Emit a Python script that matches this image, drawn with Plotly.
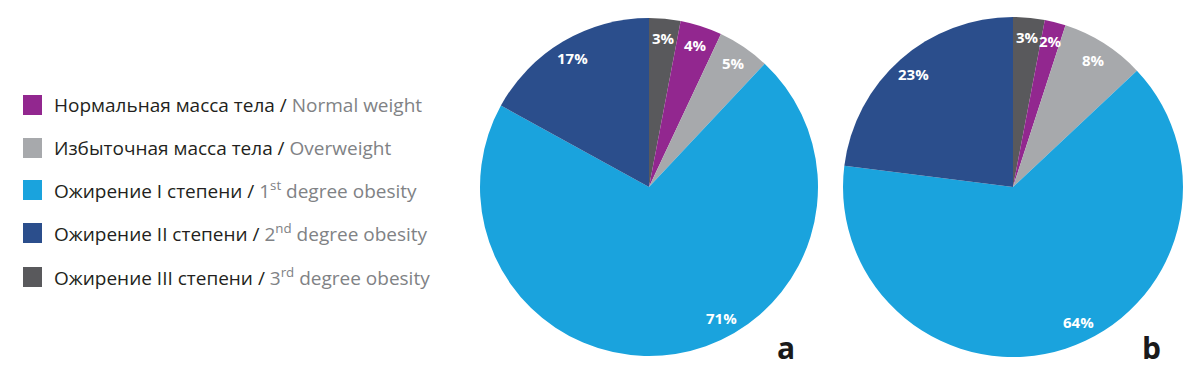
import math
import plotly.graph_objects as go

# ---- data ----
categories_ru = ["Нормальная масса тела", "Избыточная масса тела", "Ожирение I степени",
                 "Ожирение II степени", "Ожирение III степени"]
categories_en = ["Normal weight", "Overweight", "1<sup>st</sup> degree obesity",
                 "2<sup>nd</sup> degree obesity", "3<sup>rd</sup> degree obesity"]
values_a = [4, 5, 71, 17, 3]
values_b = [2, 8, 64, 23, 3]
panel_labels = ["a", "b"]

# ---- style ----
colors = ["#92278f", "#a7a9ac", "#1aa3dd", "#2b4e8c", "#59595c"]
W, H = 1200, 381
FONT = "Open Sans"
# pie placement in pixels (left, right, top, bottom)
pies_px = [(480, 818, 17, 357), (843, 1183, 17, 357)]
label_r = 0.885
label_angle_override = [{2: 151}, {2: 154}]  # big-slice label positions (deg clockwise from top)

fig = go.Figure()
annotations = []
shapes = []

for p, (vals, (l, r, t, b)) in enumerate(zip([values_a, values_b], pies_px)):
    # order clockwise from 12 o'clock: III first, then Normal, Overweight, I, II
    order = [4, 0, 1, 2, 3]
    fig.add_trace(go.Pie(
        labels=[categories_ru[i] for i in order],
        values=[vals[i] for i in order],
        marker=dict(colors=[colors[i] for i in order], line=dict(width=0)),
        sort=False, direction="clockwise", rotation=0,
        textinfo="none", hoverinfo="label+percent", showlegend=False,
        domain=dict(x=[l / W, r / W], y=[(H - b) / H, (H - t) / H]),
    ))
    cx, cy = (l + r) / 2, (t + b) / 2
    rad = min(r - l, b - t) / 2
    total = sum(vals)
    cum = 0
    for i in order:
        frac = vals[i] / total
        mid = (cum + frac / 2) * 360
        cum += frac
        ang = label_angle_override[p].get(i, mid)
        px = cx + label_r * rad * math.sin(math.radians(ang))
        py = cy - label_r * rad * math.cos(math.radians(ang))
        annotations.append(dict(
            x=px / W, y=(H - py) / H, xref="paper", yref="paper",
            text=f"<b>{round(vals[i] / total * 100)}%</b>", showarrow=False,
            font=dict(family=FONT, size=15, color="white"),
            xanchor="center", yanchor="middle"))
    annotations.append(dict(
        x=(r - 32) / W, y=(H - 347) / H, xref="paper", yref="paper",
        text=f"<b>{panel_labels[p]}</b>", showarrow=False,
        font=dict(family=FONT, size=30, color="#1a1a1a"),
        xanchor="center", yanchor="middle"))

# ---- legend (manual) ----
leg_y = [105, 148, 190, 233, 277]
for i in range(len(categories_ru)):
    y = leg_y[i]
    shapes.append(dict(type="rect", xref="paper", yref="paper",
                       x0=23 / W, x1=42 / W, y0=(H - y - 10) / H, y1=(H - y + 10) / H,
                       fillcolor=colors[i], line=dict(width=0)))
    annotations.append(dict(
        x=52 / W, y=(H - y) / H, xref="paper", yref="paper",
        text=f"{categories_ru[i]} / <span style='color:#808285'>{categories_en[i]}</span>",
        showarrow=False, xanchor="left", yanchor="middle",
        font=dict(family=FONT, size=19, color="#231f20")))

fig.update_layout(
    width=W, height=H, margin=dict(l=0, r=0, t=0, b=0),
    paper_bgcolor="white", plot_bgcolor="white",
    annotations=annotations, shapes=shapes,
)
fig.write_html("out.html", config={"displayModeBar": False},
               post_script="document.body.style.margin='0px';")
